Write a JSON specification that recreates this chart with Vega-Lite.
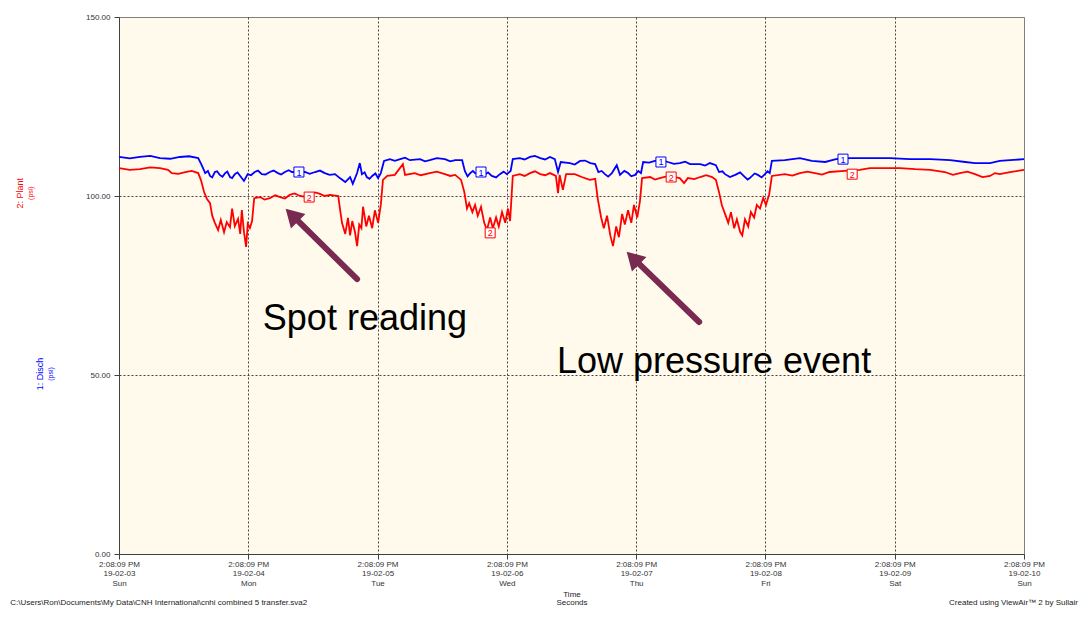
{
  "$schema": "https://vega.github.io/schema/vega-lite/v6.json",
  "width": 905,
  "height": 537,
  "autosize": {"type": "none"},
  "padding": {"left": 119, "top": 17, "right": 65, "bottom": 64},
  "background": "#ffffff",
  "config": {
    "view": {"fill": "#FFFAEC", "stroke": "#808080", "strokeWidth": 1},
    "font": "Liberation Sans",
    "axis": {
      "domainColor": "#404040",
      "tickColor": "#404040",
      "labelColor": "#333333",
      "labelFont": "Liberation Sans",
      "labelFontSize": 8,
      "titleFont": "Liberation Sans",
      "titleFontWeight": "normal",
      "titleColor": "#222222",
      "gridColor": "#444444",
      "gridDash": [2, 2],
      "gridWidth": 1,
      "tickSize": 5
    }
  },
  "datasets": {
    "lines": [
      {"s":"1","h":0,"v":110.9},{"s":"1","h":3.9,"v":110.9},{"s":"1","h":7.6,"v":110.6},{"s":"1","h":11.3,"v":110.9},{"s":"1","h":14.7,"v":110.6},
      {"s":"1","h":15.4,"v":108.5},{"s":"1","h":16.0,"v":106.4},{"s":"1","h":16.9,"v":105.6},{"s":"1","h":17.8,"v":106.7},{"s":"1","h":18.7,"v":105.9},
      {"s":"1","h":19.7,"v":106.4},{"s":"1","h":20.6,"v":105.3},{"s":"1","h":21.5,"v":106.1},{"s":"1","h":22.5,"v":105.6},{"s":"1","h":23.2,"v":104.2},
      {"s":"1","h":23.9,"v":106.1},{"s":"1","h":25.2,"v":106.7},{"s":"1","h":26.5,"v":106.1},{"s":"1","h":28.0,"v":106.7},{"s":"1","h":29.5,"v":106.4},
      {"s":"1","h":30.8,"v":106.7},{"s":"1","h":32.1,"v":106.7},{"s":"1","h":34.5,"v":106.7},{"s":"1","h":36.4,"v":106.7},{"s":"1","h":38.2,"v":106.4},
      {"s":"1","h":40.1,"v":106.1},{"s":"1","h":41.0,"v":105.0},{"s":"1","h":42.0,"v":103.9},{"s":"1","h":42.9,"v":105.3},{"s":"1","h":43.4,"v":103.4},
      {"s":"1","h":44.2,"v":106.4},{"s":"1","h":44.7,"v":109.2},{"s":"1","h":45.1,"v":106.1},{"s":"1","h":46.0,"v":105.3},{"s":"1","h":47.0,"v":105.6},
      {"s":"1","h":48.1,"v":105.0},{"s":"1","h":48.6,"v":106.4},{"s":"1","h":49.2,"v":109.8},{"s":"1","h":50.3,"v":110.3},{"s":"1","h":52.2,"v":110.3},
      {"s":"1","h":54.0,"v":110.0},{"s":"1","h":55.9,"v":110.3},{"s":"1","h":57.7,"v":110.0},{"s":"1","h":60.5,"v":110.3},{"s":"1","h":62.4,"v":110.0},
      {"s":"1","h":63.7,"v":110.0},{"s":"1","h":64.2,"v":107.0},{"s":"1","h":65.2,"v":106.4},{"s":"1","h":66.1,"v":106.4},{"s":"1","h":67.9,"v":105.9},
      {"s":"1","h":69.2,"v":105.6},{"s":"1","h":70.7,"v":106.1},{"s":"1","h":72.0,"v":106.1},{"s":"1","h":72.7,"v":107.0},{"s":"1","h":73.1,"v":110.3},
      {"s":"1","h":74.4,"v":110.6},{"s":"1","h":76.3,"v":110.9},{"s":"1","h":78.2,"v":110.6},{"s":"1","h":80.0,"v":110.9},{"s":"1","h":80.9,"v":110.3},
      {"s":"1","h":81.5,"v":106.7},{"s":"1","h":82.0,"v":109.5},{"s":"1","h":83.7,"v":109.2},{"s":"1","h":85.6,"v":109.8},{"s":"1","h":87.5,"v":109.2},
      {"s":"1","h":88.4,"v":108.9},{"s":"1","h":89.0,"v":106.7},{"s":"1","h":90.2,"v":106.1},{"s":"1","h":91.5,"v":106.4},{"s":"1","h":92.4,"v":108.6},
      {"s":"1","h":93.0,"v":105.9},{"s":"1","h":94.5,"v":106.4},{"s":"1","h":95.8,"v":105.9},{"s":"1","h":96.9,"v":106.4},{"s":"1","h":97.3,"v":109.5},
      {"s":"1","h":99.5,"v":109.8},{"s":"1","h":101.9,"v":109.5},{"s":"1","h":104.1,"v":109.2},{"s":"1","h":106.0,"v":108.9},{"s":"1","h":107.9,"v":108.9},
      {"s":"1","h":109.7,"v":109.2},{"s":"1","h":110.8,"v":108.6},{"s":"1","h":111.4,"v":106.7},{"s":"1","h":112.5,"v":106.1},{"s":"1","h":114.4,"v":105.9},
      {"s":"1","h":116.2,"v":105.3},{"s":"1","h":117.1,"v":105.0},{"s":"1","h":118.6,"v":105.9},{"s":"1","h":119.9,"v":106.1},{"s":"1","h":120.8,"v":106.4},
      {"s":"1","h":121.2,"v":109.8},{"s":"1","h":123.6,"v":110.0},{"s":"1","h":126.4,"v":110.6},{"s":"1","h":128.6,"v":109.8},{"s":"1","h":131.1,"v":109.5},
      {"s":"1","h":133.1,"v":110.3},{"s":"1","h":135.7,"v":110.6},{"s":"1","h":139.4,"v":110.6},{"s":"1","h":143.1,"v":110.6},{"s":"1","h":146.8,"v":110.3},
      {"s":"1","h":150.6,"v":110.3},{"s":"1","h":154.3,"v":110.0},{"s":"1","h":157.1,"v":109.5},{"s":"1","h":158.9,"v":109.2},{"s":"1","h":161.7,"v":109.2},
      {"s":"1","h":163.5,"v":109.8},{"s":"1","h":165.4,"v":110.0},{"s":"1","h":168.0,"v":110.3},
      {"s":"1","h":16.5,"v":107.0},{"s":"1","h":17.3,"v":105.2},{"s":"1","h":18.2,"v":106.9},{"s":"1","h":19.2,"v":105.4},{"s":"1","h":20.1,"v":106.8},
      {"s":"1","h":21.0,"v":105.0},{"s":"1","h":22.0,"v":106.6},{"s":"1","h":24.5,"v":105.8},{"s":"1","h":25.8,"v":107.1},{"s":"1","h":27.2,"v":106.0},
      {"s":"1","h":28.7,"v":107.1},{"s":"1","h":30.1,"v":106.0},{"s":"1","h":31.5,"v":107.2},{"s":"1","h":35.4,"v":106.2},{"s":"1","h":37.3,"v":107.1},
      {"s":"1","h":39.1,"v":105.9},{"s":"1","h":45.6,"v":106.6},{"s":"1","h":46.5,"v":104.8},{"s":"1","h":47.6,"v":106.3},
      {"s":"1","h":64.7,"v":105.5},{"s":"1","h":65.7,"v":107.0},{"s":"1","h":68.5,"v":106.6},{"s":"1","h":70.0,"v":105.2},{"s":"1","h":71.4,"v":106.8},
      {"s":"1","h":89.6,"v":107.0},{"s":"1","h":90.8,"v":105.4},{"s":"1","h":93.8,"v":107.0},{"s":"1","h":95.1,"v":105.5},{"s":"1","h":96.4,"v":107.0},
      {"s":"1","h":112.0,"v":106.9},{"s":"1","h":113.4,"v":105.3},{"s":"1","h":115.3,"v":106.6},{"s":"1","h":116.7,"v":104.6},{"s":"1","h":118.0,"v":106.3},
      {"s":"1","h":119.3,"v":105.2},{"s":"1","h":120.4,"v":106.9},
      {"s":"1","h":2.0,"v":110.5},{"s":"1","h":5.8,"v":111.2},{"s":"1","h":9.5,"v":110.4},{"s":"1","h":13.0,"v":111.1},
      {"s":"1","h":51.2,"v":109.8},{"s":"1","h":53.1,"v":110.7},{"s":"1","h":56.8,"v":109.7},{"s":"1","h":59.0,"v":110.6},{"s":"1","h":61.5,"v":109.7},
      {"s":"1","h":75.3,"v":110.2},{"s":"1","h":77.2,"v":111.2},{"s":"1","h":79.1,"v":110.2},{"s":"1","h":84.6,"v":108.8},{"s":"1","h":86.5,"v":109.9},
      {"s":"1","h":98.4,"v":109.3},{"s":"1","h":100.7,"v":110.1},{"s":"1","h":103.0,"v":109.0},{"s":"1","h":105.1,"v":109.6},{"s":"1","h":108.8,"v":108.5},

      {"s":"2","h":0,"v":107.8},{"s":"2","h":3.9,"v":107.5},{"s":"2","h":7.6,"v":107.8},{"s":"2","h":9.1,"v":107.3},{"s":"2","h":9.8,"v":106.4},
      {"s":"2","h":12.3,"v":106.7},{"s":"2","h":14.7,"v":106.4},{"s":"2","h":15.2,"v":104.5},{"s":"2","h":15.8,"v":101.1},{"s":"2","h":16.3,"v":99.2},
      {"s":"2","h":16.9,"v":98.0},{"s":"2","h":17.3,"v":94.5},{"s":"2","h":17.8,"v":92.5},{"s":"2","h":18.4,"v":90.5},{"s":"2","h":18.9,"v":93.3},
      {"s":"2","h":19.5,"v":89.9},{"s":"2","h":20.0,"v":92.7},{"s":"2","h":20.6,"v":91.3},{"s":"2","h":21.0,"v":96.5},{"s":"2","h":21.5,"v":91.6},
      {"s":"2","h":22.1,"v":93.6},{"s":"2","h":22.5,"v":89.4},{"s":"2","h":22.8,"v":96.1},{"s":"2","h":23.2,"v":89.9},{"s":"2","h":23.6,"v":85.8},
      {"s":"2","h":23.9,"v":92.2},{"s":"2","h":24.3,"v":91.1},{"s":"2","h":24.7,"v":93.0},{"s":"2","h":25.1,"v":99.4},{"s":"2","h":26.2,"v":99.7},
      {"s":"2","h":28.0,"v":99.4},{"s":"2","h":29.9,"v":99.7},{"s":"2","h":31.7,"v":100.3},{"s":"2","h":33.6,"v":100.0},{"s":"2","h":35.5,"v":100.6},
      {"s":"2","h":37.3,"v":100.6},{"s":"2","h":39.2,"v":100.3},{"s":"2","h":40.7,"v":100.0},{"s":"2","h":41.0,"v":96.6},{"s":"2","h":41.4,"v":92.5},
      {"s":"2","h":42.0,"v":89.4},{"s":"2","h":42.5,"v":93.9},{"s":"2","h":42.9,"v":89.0},{"s":"2","h":43.3,"v":93.0},{"s":"2","h":43.8,"v":90.0},
      {"s":"2","h":44.2,"v":86.0},{"s":"2","h":44.6,"v":92.0},{"s":"2","h":45.0,"v":91.0},{"s":"2","h":45.3,"v":97.0},{"s":"2","h":45.9,"v":91.5},
      {"s":"2","h":46.4,"v":94.5},{"s":"2","h":47.0,"v":91.0},{"s":"2","h":47.5,"v":96.0},{"s":"2","h":48.1,"v":92.5},{"s":"2","h":48.6,"v":97.5},
      {"s":"2","h":49.0,"v":104.5},{"s":"2","h":49.8,"v":105.6},{"s":"2","h":51.2,"v":105.9},{"s":"2","h":52.7,"v":108.9},{"s":"2","h":53.1,"v":105.9},
      {"s":"2","h":54.9,"v":106.4},{"s":"2","h":57.7,"v":106.4},{"s":"2","h":60.5,"v":106.1},{"s":"2","h":62.4,"v":105.9},{"s":"2","h":63.5,"v":104.5},
      {"s":"2","h":64.1,"v":101.1},{"s":"2","h":64.6,"v":96.5},{"s":"2","h":65.0,"v":98.0},{"s":"2","h":65.6,"v":95.5},{"s":"2","h":66.1,"v":97.5},
      {"s":"2","h":66.6,"v":94.5},{"s":"2","h":67.2,"v":97.0},{"s":"2","h":67.8,"v":92.5},{"s":"2","h":68.3,"v":90.5},{"s":"2","h":68.9,"v":94.0},
      {"s":"2","h":69.4,"v":91.0},{"s":"2","h":70.0,"v":94.0},{"s":"2","h":70.5,"v":91.5},{"s":"2","h":71.1,"v":95.5},{"s":"2","h":71.7,"v":92.5},
      {"s":"2","h":72.2,"v":96.5},{"s":"2","h":72.6,"v":93.0},{"s":"2","h":73.1,"v":105.6},{"s":"2","h":74.4,"v":106.1},{"s":"2","h":76.3,"v":106.4},
      {"s":"2","h":78.2,"v":106.1},{"s":"2","h":80.0,"v":106.4},{"s":"2","h":81.1,"v":105.6},{"s":"2","h":81.5,"v":100.8},{"s":"2","h":81.8,"v":105.9},
      {"s":"2","h":82.4,"v":101.7},{"s":"2","h":83.0,"v":106.1},{"s":"2","h":84.6,"v":106.1},{"s":"2","h":85.9,"v":105.3},{"s":"2","h":87.4,"v":104.5},
      {"s":"2","h":88.4,"v":104.8},{"s":"2","h":88.9,"v":99.0},{"s":"2","h":89.5,"v":94.0},{"s":"2","h":90.0,"v":91.0},{"s":"2","h":90.6,"v":94.5},
      {"s":"2","h":91.2,"v":89.0},{"s":"2","h":91.7,"v":86.0},{"s":"2","h":92.3,"v":91.5},{"s":"2","h":92.8,"v":88.5},{"s":"2","h":93.4,"v":95.0},
      {"s":"2","h":93.9,"v":92.0},{"s":"2","h":94.5,"v":96.0},{"s":"2","h":95.1,"v":92.5},{"s":"2","h":95.6,"v":97.5},{"s":"2","h":96.2,"v":94.0},
      {"s":"2","h":96.7,"v":98.5},{"s":"2","h":97.1,"v":105.0},{"s":"2","h":98.6,"v":105.3},{"s":"2","h":100.4,"v":105.0},{"s":"2","h":104.1,"v":105.0},
      {"s":"2","h":104.9,"v":103.6},{"s":"2","h":105.6,"v":105.0},{"s":"2","h":107.9,"v":105.3},{"s":"2","h":110.1,"v":105.3},{"s":"2","h":110.8,"v":104.5},
      {"s":"2","h":111.4,"v":101.0},{"s":"2","h":111.9,"v":97.5},{"s":"2","h":112.5,"v":95.0},{"s":"2","h":113.1,"v":92.5},{"s":"2","h":113.6,"v":95.5},
      {"s":"2","h":114.2,"v":91.0},{"s":"2","h":114.7,"v":93.5},{"s":"2","h":115.3,"v":90.0},{"s":"2","h":115.7,"v":89.0},{"s":"2","h":116.2,"v":93.5},
      {"s":"2","h":116.8,"v":91.5},{"s":"2","h":117.3,"v":95.5},{"s":"2","h":117.9,"v":94.0},{"s":"2","h":118.4,"v":97.5},{"s":"2","h":119.0,"v":96.5},
      {"s":"2","h":119.6,"v":99.5},{"s":"2","h":120.1,"v":97.5},{"s":"2","h":120.7,"v":100.5},{"s":"2","h":121.2,"v":105.6},{"s":"2","h":123.6,"v":106.1},
      {"s":"2","h":126.4,"v":106.4},{"s":"2","h":129.2,"v":106.4},{"s":"2","h":131.9,"v":106.7},{"s":"2","h":134.7,"v":107.0},{"s":"2","h":137.5,"v":107.3},
      {"s":"2","h":139.4,"v":107.8},{"s":"2","h":142.2,"v":107.8},{"s":"2","h":145.0,"v":107.8},{"s":"2","h":147.8,"v":107.5},{"s":"2","h":150.6,"v":107.3},
      {"s":"2","h":153.3,"v":106.7},{"s":"2","h":156.1,"v":106.4},{"s":"2","h":158.9,"v":106.1},{"s":"2","h":161.7,"v":105.6},{"s":"2","h":163.5,"v":106.1},
      {"s":"2","h":165.4,"v":106.7},{"s":"2","h":168.0,"v":107.3},
      {"s":"2","h":27.0,"v":99.0},{"s":"2","h":29.0,"v":100.2},{"s":"2","h":30.8,"v":99.3},{"s":"2","h":32.6,"v":100.7},{"s":"2","h":34.5,"v":99.8},
      {"s":"2","h":36.4,"v":101.0},{"s":"2","h":38.2,"v":100.0},{"s":"2","h":2.0,"v":107.3},{"s":"2","h":5.8,"v":108.0},{"s":"2","h":11.0,"v":106.2},
      {"s":"2","h":13.5,"v":107.0},{"s":"2","h":56.0,"v":105.8},{"s":"2","h":59.0,"v":106.8},{"s":"2","h":61.5,"v":105.6},{"s":"2","h":75.3,"v":105.6},
      {"s":"2","h":77.2,"v":106.9},{"s":"2","h":79.1,"v":105.8},{"s":"2","h":99.5,"v":104.6},{"s":"2","h":102.0,"v":105.6},{"s":"2","h":106.8,"v":104.7},
      {"s":"2","h":109.0,"v":105.8},{"s":"2","h":125.0,"v":105.7},{"s":"2","h":127.8,"v":106.8},{"s":"2","h":130.5,"v":106.0},{"s":"2","h":154.8,"v":105.9},
      {"s":"2","h":157.5,"v":106.8},{"s":"2","h":160.3,"v":105.3},{"s":"2","h":162.6,"v":106.4}
    ],
    "tags": [
      {"s":"1","h":33.4,"v":106.7},{"s":"1","h":67.2,"v":106.7},{"s":"1","h":100.6,"v":109.5},{"s":"1","h":134.4,"v":110.3},
      {"s":"2","h":35.3,"v":99.7},{"s":"2","h":68.9,"v":89.7},{"s":"2","h":102.5,"v":105.3},{"s":"2","h":136.1,"v":106.1}
    ],
    "arrows": [
      {"h":44.2,"v":76.8,"h2":32.1,"v2":94.7},
      {"h":107.7,"v":64.8,"h2":95.4,"v2":82.7}
    ],
    "notes": [
      {"h":26.7,"v":62.6,"t":"Spot reading"},
      {"h":81.3,"v":50.6,"t":"Low pressure event"}
    ],
    "sideMain": [
      {"h":-18.3,"v":100.8,"t":"2: Plant","s":"2"},
      {"h":-14.6,"v":50.3,"t":"1: Disch","s":"1"}
    ],
    "sideUnit": [
      {"h":-16.3,"v":100.8,"t":"(psi)","s":"2"},
      {"h":-12.6,"v":50.3,"t":"(psi)","s":"1"}
    ],
    "footL": [
      {"h":-20.2,"v":-13.7,"t":"C:\\Users\\Ron\\Documents\\My Data\\CNH International\\cnhi combined 5 transfer.sva2"}
    ],
    "footR": [
      {"h":178.0,"v":-13.7,"t":"Created using ViewAir™ 2 by Sullair"}
    ]
  },
  "encoding": {
    "x": {
      "field": "h",
      "type": "quantitative",
      "scale": {"domain": [0, 168], "nice": false, "zero": false},
      "axis": {
        "values": [0, 24, 48, 72, 96, 120, 144, 168],
        "labelExpr": "['2:08:09 PM', datum.value < 168 ? '19-02-0' + (3 + datum.value / 24) : '19-02-10', ['Sun','Mon','Tue','Wed','Thu','Fri','Sat','Sun'][datum.value / 24]]",
        "labelLineHeight": 9.5,
        "labelPadding": 1,
        "labelFlush": false,
        "labelOverlap": false,
        "grid": true,
        "gridOpacity": {"condition": {"test": "datum.value == 0 || datum.value == 168", "value": 0}, "value": 1},
        "title": ["Time", "Seconds"],
        "titleFontSize": 8,
        "titleLineHeight": 8.5,
        "titlePadding": 3
      }
    },
    "y": {
      "field": "v",
      "type": "quantitative",
      "scale": {"domain": [0, 150], "nice": false},
      "axis": {
        "values": [0, 50, 100, 150],
        "format": ".2f",
        "labelPadding": 4,
        "grid": true,
        "gridOpacity": {"condition": {"test": "datum.value == 0 || datum.value == 150", "value": 0}, "value": 1},
        "title": null
      }
    }
  },
  "layer": [
    {
      "data": {"name": "lines"},
      "mark": {"type": "line", "strokeWidth": 1.8, "interpolate": "linear"},
      "encoding": {
        "color": {"field": "s", "type": "nominal", "scale": {"domain": ["1", "2"], "range": ["#0000FF", "#FF0000"]}, "legend": null},
        "detail": {"field": "s"}
      }
    },
    {
      "data": {"name": "tags"},
      "mark": {"type": "point", "shape": "square", "size": 100, "filled": true, "fill": "#ffffff", "strokeWidth": 1, "opacity": 1},
      "encoding": {
        "stroke": {"field": "s", "type": "nominal", "scale": {"domain": ["1", "2"], "range": ["#0000FF", "#FF0000"]}, "legend": null}
      }
    },
    {
      "data": {"name": "tags"},
      "mark": {"type": "text", "fontSize": 9, "baseline": "middle", "align": "center", "dy": 0.5},
      "encoding": {
        "text": {"field": "s"},
        "color": {"field": "s", "type": "nominal", "scale": {"domain": ["1", "2"], "range": ["#0000FF", "#FF0000"]}, "legend": null}
      }
    },
    {
      "data": {"name": "arrows"},
      "mark": {"type": "rule", "color": "#782A50", "strokeWidth": 6, "strokeCap": "round"},
      "encoding": {
        "x2": {"field": "h2"},
        "y2": {"field": "v2"}
      }
    },
    {
      "data": {"name": "arrows"},
      "mark": {"type": "point", "shape": "triangle-up", "size": 420, "filled": true, "color": "#782A50", "opacity": 1, "angle": -45},
      "encoding": {
        "x": {"field": "h2", "type": "quantitative"},
        "y": {"field": "v2", "type": "quantitative"}
      }
    },
    {
      "data": {"name": "notes"},
      "mark": {"type": "text", "fontSize": 36, "align": "left", "baseline": "alphabetic", "color": "#000000", "font": "Liberation Sans"},
      "encoding": {"text": {"field": "t"}}
    },
    {
      "data": {"name": "sideMain"},
      "mark": {"type": "text", "fontSize": 9, "angle": 270, "align": "center", "baseline": "middle"},
      "encoding": {
        "text": {"field": "t"},
        "color": {"field": "s", "type": "nominal", "scale": {"domain": ["1", "2"], "range": ["#0000FF", "#FF0000"]}, "legend": null}
      }
    },
    {
      "data": {"name": "sideUnit"},
      "mark": {"type": "text", "fontSize": 7, "angle": 270, "align": "center", "baseline": "middle"},
      "encoding": {
        "text": {"field": "t"},
        "color": {"field": "s", "type": "nominal", "scale": {"domain": ["1", "2"], "range": ["#0000FF", "#FF0000"]}, "legend": null}
      }
    },
    {
      "data": {"name": "footL"},
      "mark": {"type": "text", "fontSize": 8, "align": "left", "baseline": "middle", "color": "#222222"},
      "encoding": {"text": {"field": "t"}}
    },
    {
      "data": {"name": "footR"},
      "mark": {"type": "text", "fontSize": 8, "align": "right", "baseline": "middle", "color": "#222222"},
      "encoding": {"text": {"field": "t"}}
    }
  ]
}
